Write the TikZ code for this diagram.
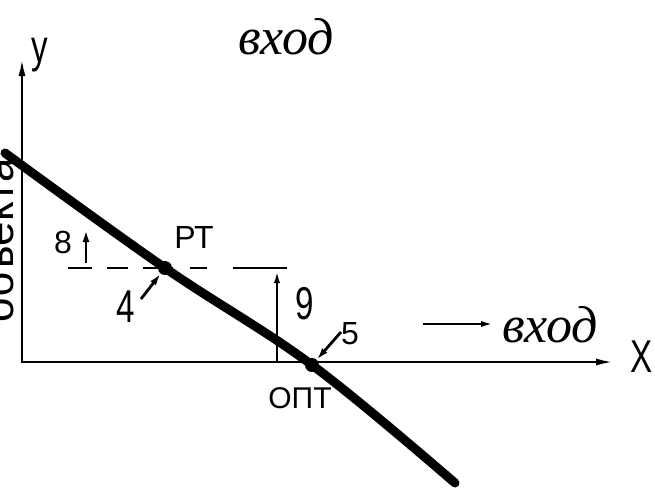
\documentclass[tikz,border=0pt]{standalone}
\usepackage{fontspec}
\setmainfont{Liberation Sans}
\newfontfamily\gostn[FakeStretch=0.72]{Liberation Sans}
\newfontfamily\gostw{Liberation Sans}
\newfontfamily\cursiv{Liberation Serif}
\usetikzlibrary{arrows.meta}
\begin{document}
\begin{tikzpicture}[x=1pt,y=-1pt,
  axisline/.style={line width=2.6pt,{Latex[length=18pt,width=7pt]}-{Latex[length=18pt,width=7pt]}},
  curveline/.style={line width=9pt,line cap=round},
  ptr/.style={line width=2.8pt,-{Latex[length=12pt,width=7pt]}},
  thinptr/.style={line width=2.6pt,-{Latex[length=14pt,width=6pt]}},
  dot/.style={circle,fill=black,inner sep=0pt,minimum size=14pt},
  lbl/.style={inner sep=0pt,font=\gostw\fontsize{32}{32}\selectfont},
  tall/.style={inner sep=0pt,font=\gostn\fontsize{46}{46}\selectfont},
  cur/.style={inner sep=0pt,font=\cursiv\itshape\fontsize{52}{52}\selectfont}]
\useasboundingbox (0,0) rectangle (655,488);
% axes
\coordinate (Ytip) at (22,58);
\coordinate (O) at (22,362);
\coordinate (Xtip) at (614,362);
\draw[axisline,line join=miter] (Ytip) -- (O) -- (Xtip);
\node[tall] (ylab) at (40,55) {y};
\node[tall] (xlab) at (642,357) {X};
% rotated label on the left
\node[inner sep=0pt,font=\gostw\fontsize{44}{44}\selectfont,rotate=90,anchor=base] (obj) at (13,240) {объекта};
% characteristic curve
\draw[curveline] plot[smooth,tension=0.6] coordinates {(5,153) (165,268) (312,365) (455,483)};
\node[dot] (PTd) at (165,268) {};
\node[dot] (OPTd) at (312,365) {};
% dashed level
\coordinate (dL) at (68,268);
\coordinate (dR) at (287,268);
\coordinate (vB) at (277,362);
\coordinate (vT) at (277,269);
\draw[line width=2.6pt,dash pattern=on 24pt off 15pt on 21pt off 15pt on 30pt off 17pt on 17pt off 26pt on 60pt] (dL) -- (dR);
\draw[thinptr] (vB) -- (vT);
% labels
\node[cur] (vhodTop) at (286,37) {вход};
\node[cur] (vhodR) at (550,325) {вход};
\coordinate (aS) at (423,324);
\coordinate (aE) at (495,324);
\draw[thinptr] (aS) -- (aE);
\node[lbl] (pt) at (194,237) {РТ};
\node[lbl,font=\gostw\fontsize{30}{30}\selectfont] (opt) at (300,398) {ОПТ};
\node[lbl] (n8) at (63,242) {8};
\coordinate (a8s) at (86,263);
\coordinate (a8e) at (86,230);
\draw[ptr] (a8s) -- (a8e);
\node[tall] (n9) at (305,304) {9};
\node[tall] (n4) at (126,307) {4};
\coordinate (a4s) at (141,299);
\draw[ptr] (a4s) -- (PTd);
\node[lbl] (n5) at (350,334) {5};
\coordinate (a5s) at (341,332);
\draw[ptr] (a5s) -- (OPTd);
\end{tikzpicture}
\end{document}
